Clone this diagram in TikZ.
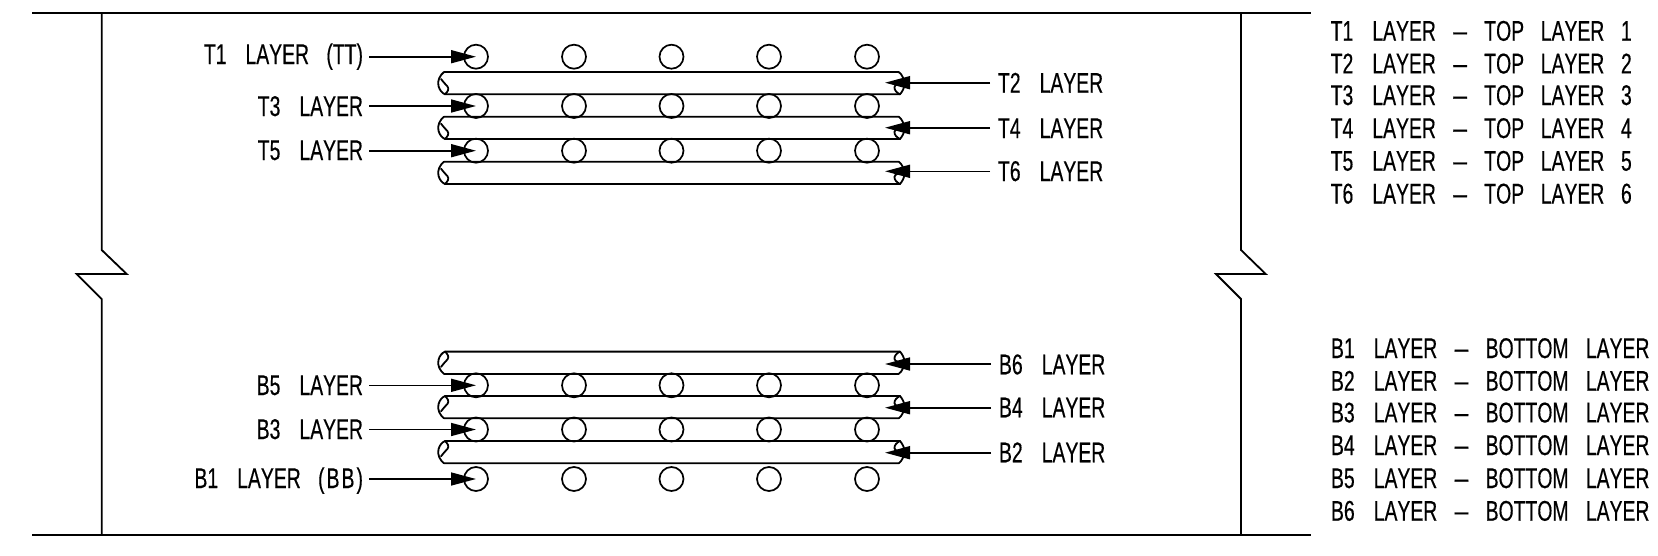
\documentclass[tikz,border=0pt]{standalone}
\usepackage{fontspec}
\setmainfont[Kerning=Off,FakeBold=0.5]{Liberation Sans}
\usetikzlibrary{arrows.meta}
\newcommand{\wfirst}{\hspace{28pt}}
\newcommand{\wgap}{\hspace{25.5pt}}
\newcommand{\ldash}{\scalebox{1.27}[1]{–}}
\newcommand{\lyr}[2]{#1\wfirst LAYER\wgap\ldash\wgap #2}
\tikzset{
  x=1pt,y=-1pt,
  struct/.style={line width=1.8pt,line join=miter},
  pipe/.style={line width=1.8pt,line join=round,line cap=round},
  rebar/.style={circle,draw,line width=1.7pt,minimum size=24pt,inner sep=0pt,outer sep=0pt},
  lead/.style={line width=1.6pt,-{Triangle[length=25pt,width=13pt,sep=0pt]}},
  lbl/.style={inner sep=0pt,outer sep=0pt,xscale=.68,transform shape,font=\fontsize{28.5}{30}\selectfont},
}
% bar running along the row, with break marks at both ends
\newcommand{\barrun}{%
  \draw[pipe] (444,0) -- (898.7,0)
    .. controls (902,2) and (904.5,8) .. (904.5,12)
    .. controls (904.5,16) and (902,20) .. (900,22.3)
    -- (445,22.3)
    .. controls (442,21) and (439.5,18) .. (438.5,14)
    .. controls (437,9) and (440,3) .. (444,0);
  \draw[pipe] (445,22.3)
    .. controls (447.5,20) and (449.5,17) .. (447.5,14.5)
    .. controls (445.5,12) and (443,10) .. (441,7);
  \draw[pipe] (900,22.3)
    .. controls (897,21) and (894,18) .. (894.5,15)
    .. controls (895,12) and (899,12) .. (904,11);
}
\begin{document}
\begin{tikzpicture}
\useasboundingbox (0,0) rectangle (1658,555);
% slab outline
\draw[struct] (32,13) -- (1310.7,13);
\draw[struct] (32,535) -- (1310.7,535);
\draw[struct] (101.7,13) -- (101.7,250) -- (126.7,274) -- (76.7,274) -- (101.7,299) -- (101.7,535);
\draw[struct] (1241,13) -- (1241,250) -- (1265.7,274) -- (1216,274) -- (1241,299) -- (1241,535);
% bars
\foreach \yy in {72,116.7,161.7}{
  \begin{scope}[shift={(0,\yy)}]\barrun\end{scope}
}
\foreach \yy in {373.9,418.3,463.3}{
  \begin{scope}[shift={(0,\yy)},yscale=-1]\barrun\end{scope}
}
% circles
\foreach \nm/\yy in {ra/56.7,rb/106,rc/150.7,rd/385.3,re/429.5,rf/479}{
  \foreach \ii/\xx in {1/476,2/574,3/671.5,4/769,5/867}{
    \node[rebar] (\nm\ii) at (\xx,\yy) {};
  }
}
% left labels
\node[lbl,anchor=base east] (t1) at (363,64) {T1\wfirst LAYER\wgap(TT)};
\node[lbl,anchor=base east] (t3) at (363,116) {T3\wfirst LAYER};
\node[lbl,anchor=base east] (t5) at (363,160) {T5\wfirst LAYER};
\node[lbl,anchor=base east] (b5) at (363,395) {B5\wfirst LAYER};
\node[lbl,anchor=base east] (b3) at (363,439) {B3\wfirst LAYER};
\node[lbl,anchor=base east] (b1) at (363,488) {B1\wfirst LAYER\wgap(\kern3pt B\kern3pt B\kern3pt)};
\foreach \lab/\tg in {t1/ra1,t3/rb1,t5/rc1,b5/rd1,b3/re1,b1/rf1}{
  \draw[lead] ([xshift=6pt]\lab.east |- \tg.center) -- (\tg.center);
}
% right labels
\node[lbl,anchor=base west] (t2) at (998,92.7) {T2\wfirst LAYER};
\node[lbl,anchor=base west] (t4) at (998,138) {T4\wfirst LAYER};
\node[lbl,anchor=base west] (t6) at (998,181) {T6\wfirst LAYER};
\node[lbl,anchor=base west] (b6) at (999,374.3) {B6\wfirst LAYER};
\node[lbl,anchor=base west] (b4) at (999,417.3) {B4\wfirst LAYER};
\node[lbl,anchor=base west] (b2) at (999,462.3) {B2\wfirst LAYER};
\coordinate (pt2) at (885,82.7);
\coordinate (pt4) at (885,127.7);
\coordinate (pt6) at (885,171.3);
\coordinate (pb6) at (885,364);
\coordinate (pb4) at (885,407.7);
\coordinate (pb2) at (885,452.7);
\foreach \lab in {t2,t4,t6,b6,b4,b2}{
  \draw[lead] ([xshift=-8pt]\lab.west |- p\lab) -- (p\lab);
}
% legend
\foreach \i/\yy in {1/40.7,2/73.4,3/105,4/138,5/170.7,6/203.5}{
  \node[lbl,anchor=base west] (lt\i) at (1330.7,\yy) {\lyr{T\i}{TOP\hspace{24.5pt}LAYER\hspace{24.5pt}\i}};
}
\foreach \i/\yy in {1/358,2/390.7,3/422.4,4/455,5/488,6/520.7}{
  \node[lbl,anchor=base west] (lb\i) at (1331,\yy) {\lyr{B\i}{BOTTOM\wgap LAYER}};
}
\end{tikzpicture}
\end{document}
